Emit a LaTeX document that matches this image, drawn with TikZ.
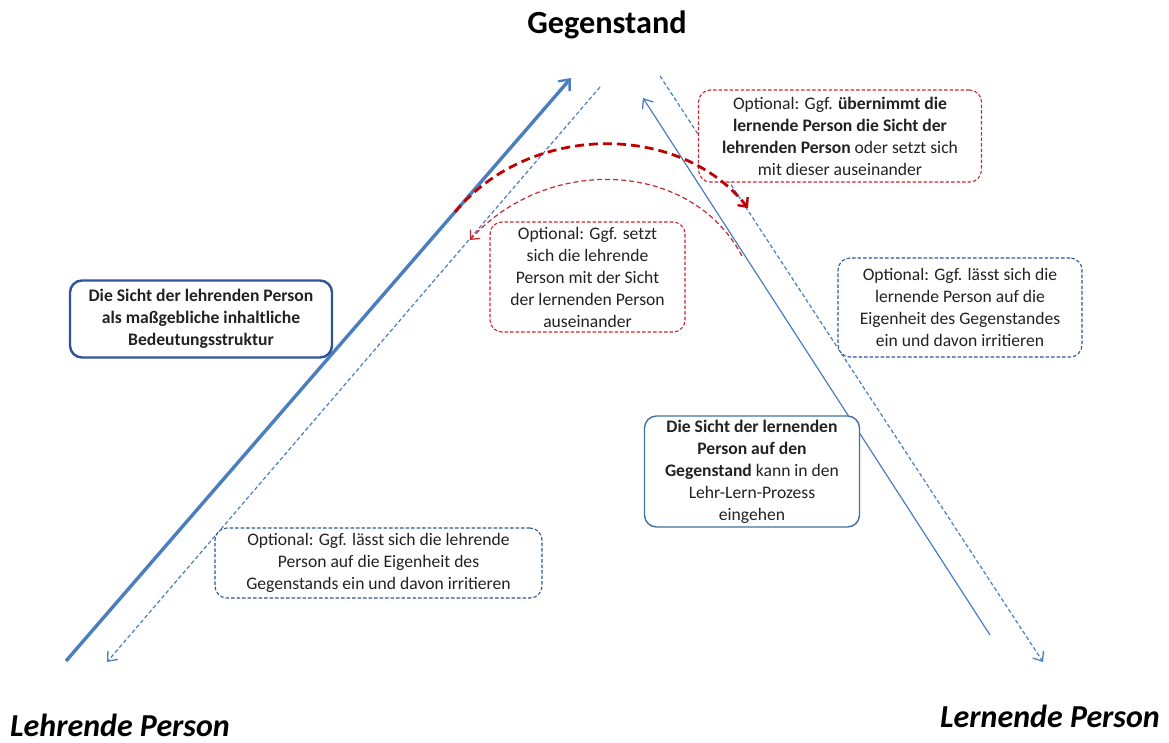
\documentclass[tikz,border=0pt]{standalone}
\usepackage{fontspec}
\setmainfont{Carlito}
\usetikzlibrary{arrows.meta}
\definecolor{lineblue}{HTML}{4A7EBF}
\definecolor{boxblue}{HTML}{2F5597}
\definecolor{frameblue}{HTML}{41719C}
\definecolor{darkred}{HTML}{C00000}
\definecolor{softred}{HTML}{C8282E}
\definecolor{ink}{HTML}{222222}
\tikzset{
  x=1pt, y=-1pt,
  every node/.style={text=ink, font=\fontsize{17.6}{22}\selectfont, align=center, inner sep=0pt},
  box/.style={rectangle, rounded corners=12pt, fill=white},
  redbox/.style={box, draw=softred, line width=1.1pt, dash pattern=on 3.5pt off 2pt},
  bluedashbox/.style={box, draw=boxblue, line width=1.1pt, dash pattern=on 3.5pt off 2pt},
  solidbox/.style={box, draw=frameblue, line width=1.4pt},
  thickarrow/.style={draw=lineblue, line width=3.4pt, -{Straight Barb[length=9pt,width=15pt,line width=2.4pt]}},
  thinarrow/.style={draw=lineblue, line width=1.2pt, -{Straight Barb[length=8pt,width=13pt,line width=1.3pt]}},
  thindash/.style={thinarrow, dash pattern=on 4pt off 2.5pt},
  redthick/.style={draw=darkred, line width=2.8pt, dash pattern=on 9pt off 5pt, -{Straight Barb[length=7pt,width=13pt,line width=2.4pt]}},
  redthin/.style={draw=softred, line width=1.2pt, dash pattern=on 5pt off 3pt, -{Straight Barb[length=7pt,width=13pt,line width=1.3pt]}},
  title/.style={font=\fontsize{32.3}{36}\selectfont\bfseries, text=black},
  person/.style={font=\fontsize{32}{36}\selectfont\bfseries\itshape, text=black}
}
\begin{document}
\begin{tikzpicture}
\useasboundingbox (0,0) rectangle (1169,742);

% corner labels
\node[title, anchor=base]  (gegen) at (607,33) {Gegenstand};
\node[person, anchor=base west] (lehr) at (10,736) {Lehrende Person};
\node[person, anchor=base west] (lern) at (940,727) {Lernende Person};

% end points of the four blue connectors
\coordinate (lA) at (66,661);
\coordinate (lB) at (571,78);
\coordinate (lC) at (600,87);
\coordinate (lD) at (107,662);
\coordinate (rA) at (990,635);
\coordinate (rB) at (643,98);
\coordinate (rC) at (660,76);
\coordinate (rD) at (1043,662);

\draw[thickarrow] (lA) -- (lB);
\draw[thindash]   (lC) -- (lD);
\draw[thinarrow]  (rA) -- (rB);
\draw[thindash]   (rC) -- (rD);

% boxes
\node[solidbox, draw=boxblue, line width=2.4pt, minimum width=262pt, minimum height=77pt,
      font=\fontsize{17.6}{22}\selectfont\bfseries] (lehrsicht) at (201,319)
  {Die Sicht der lehrenden Person\\als maßgebliche inhaltliche\\Bedeutungsstruktur};

\node[solidbox, minimum width=215pt, minimum height=111pt] (lernsicht) at (752,471.5)
  {\textbf{Die Sicht der lernenden}\\\textbf{Person auf den}\\\textbf{Gegenstand} kann in den\\Lehr-Lern-Prozess\\eingehen};

\node[redbox, minimum width=283pt, minimum height=92pt] (uebern) at (840,136)
  {Optional: Ggf. \textbf{übernimmt die}\\\textbf{lernende Person die Sicht der}\\\textbf{lehrenden Person} oder setzt sich\\mit dieser auseinander};

\node[redbox, minimum width=195pt, minimum height=110pt] (setzt) at (587.5,277)
  {Optional: Ggf. setzt\\sich die lehrende\\Person mit der Sicht\\der lernenden Person\\auseinander};

\node[bluedashbox, minimum width=244pt, minimum height=99pt] (lernirr) at (960,307.5)
  {Optional: Ggf. lässt sich die\\lernende Person auf die\\Eigenheit des Gegenstandes\\ein und davon irritieren};

\node[bluedashbox, minimum width=327pt, minimum height=70pt] (lehrirr) at (378.5,563)
  {Optional: Ggf. lässt sich die lehrende\\Person auf die Eigenheit des\\Gegenstands ein und davon irritieren};

% red curved connectors between the two views
\coordinate (cA) at (455,212);
\coordinate (cB) at (748,208);
\coordinate (cC) at (742,256);
\coordinate (cD) at (470,240);
\draw[redthick] (cA) .. controls (530,122) and (680,122) .. (cB);
\draw[redthin]  (cC) .. controls (690,158) and (545,156) .. (cD);
\end{tikzpicture}
\end{document}
